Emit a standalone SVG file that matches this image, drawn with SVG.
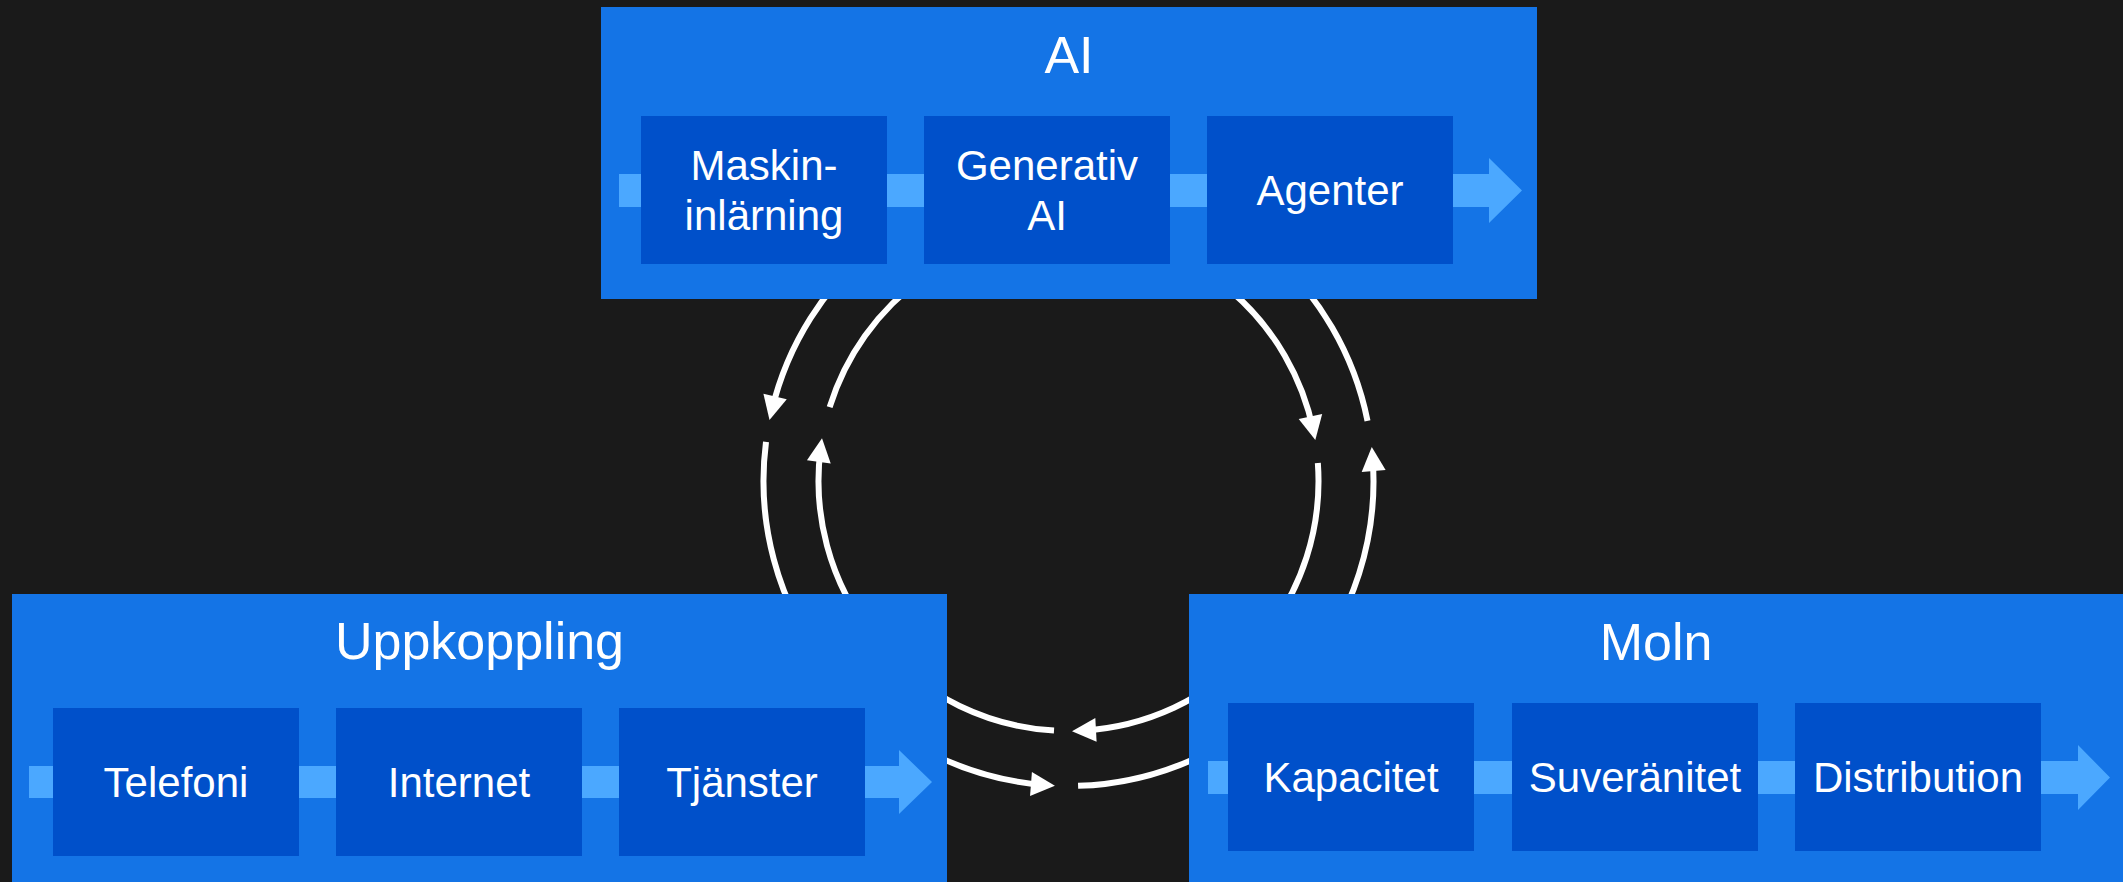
<svg xmlns="http://www.w3.org/2000/svg" width="2123" height="882" viewBox="0 0 2123 882">
  <style>
    .panel { fill: #1474E6; }
    .step { fill: #0050CA; }
    .band { fill: #4BA8FF; }
    .title { font-family: "Liberation Sans", Arial, sans-serif; font-size: 52px; fill: #FFFFFF; text-anchor: middle; }
    .label { font-family: "Liberation Sans", Arial, sans-serif; font-size: 42px; fill: #FFFFFF; text-anchor: middle; }
    .arc { fill: none; stroke: #FFFFFF; stroke-width: 6; marker-end: url(#head); }
  </style>
  <defs>
    <marker id="head" markerUnits="userSpaceOnUse" viewBox="0 -13 26 26" markerWidth="26" markerHeight="26" refX="14" refY="0" orient="auto" overflow="visible">
      <path d="M0,-12 L24,0 L0,12 Z" fill="#FFFFFF"/>
    </marker>
  </defs>
  <rect width="2123" height="882" fill="#1A1A1A"/>

  <g id="connectors">
    <path class="arc" d="M1367.51,420.87 A305,305 0 0 0 771.84,410.16"/>
    <path class="arc" d="M766.01,441.98 A305,305 0 0 0 1044.94,785.09"/>
    <path class="arc" d="M1078.08,785.85 A305,305 0 0 0 1372.55,457.02"/>
    <path class="arc" d="M829.64,407.20 A250,250 0 0 1 1313.28,430.18"/>
    <path class="arc" d="M1317.85,462.99 A250,250 0 0 1 1081.98,730.64"/>
    <path class="arc" d="M1054.02,730.58 A250,250 0 0 1 820.68,448.07"/>
  </g>

  <g id="ai">
    <rect class="panel" x="601" y="7" width="936" height="292"/>
    <text class="title" x="1069" y="73">AI</text>
    <path class="band" d="M619,174 H1489 V158 L1522,190.5 L1489,223 V207 H619 Z"/>
    <g id="ai-maskininlarning">
      <rect class="step" x="641" y="116" width="246" height="148"/>
      <text class="label" x="764" y="180">Maskin-</text>
      <text class="label" x="764" y="230">inlärning</text>
    </g>
    <g id="ai-generativ">
      <rect class="step" x="924" y="116" width="246" height="148"/>
      <text class="label" x="1047" y="180">Generativ</text>
      <text class="label" x="1047" y="230">AI</text>
    </g>
    <g id="ai-agenter">
      <rect class="step" x="1207" y="116" width="246" height="148"/>
      <text class="label" x="1330" y="205">Agenter</text>
    </g>
  </g>

  <g id="uppkoppling">
    <rect class="panel" x="12" y="594" width="935" height="288"/>
    <text class="title" x="479.5" y="659">Uppkoppling</text>
    <path class="band" d="M29,766 H899 V750 L932,782 L899,814 V798 H29 Z"/>
    <g id="upp-telefoni">
      <rect class="step" x="53" y="708" width="246" height="148"/>
      <text class="label" x="176" y="797">Telefoni</text>
    </g>
    <g id="upp-internet">
      <rect class="step" x="336" y="708" width="246" height="148"/>
      <text class="label" x="459" y="797">Internet</text>
    </g>
    <g id="upp-tjanster">
      <rect class="step" x="619" y="708" width="246" height="148"/>
      <text class="label" x="742" y="797">Tjänster</text>
    </g>
  </g>

  <g id="moln">
    <rect class="panel" x="1189" y="594" width="934" height="288"/>
    <text class="title" x="1656" y="660">Moln</text>
    <path class="band" d="M1208,761 H2078 V745 L2110,777.5 L2078,810 V794 H1208 Z"/>
    <g id="moln-kapacitet">
      <rect class="step" x="1228" y="703" width="246" height="148"/>
      <text class="label" x="1351" y="792">Kapacitet</text>
    </g>
    <g id="moln-suveranitet">
      <rect class="step" x="1512" y="703" width="246" height="148"/>
      <text class="label" x="1635" y="792">Suveränitet</text>
    </g>
    <g id="moln-distribution">
      <rect class="step" x="1795" y="703" width="246" height="148"/>
      <text class="label" x="1918" y="792">Distribution</text>
    </g>
  </g>
</svg>
